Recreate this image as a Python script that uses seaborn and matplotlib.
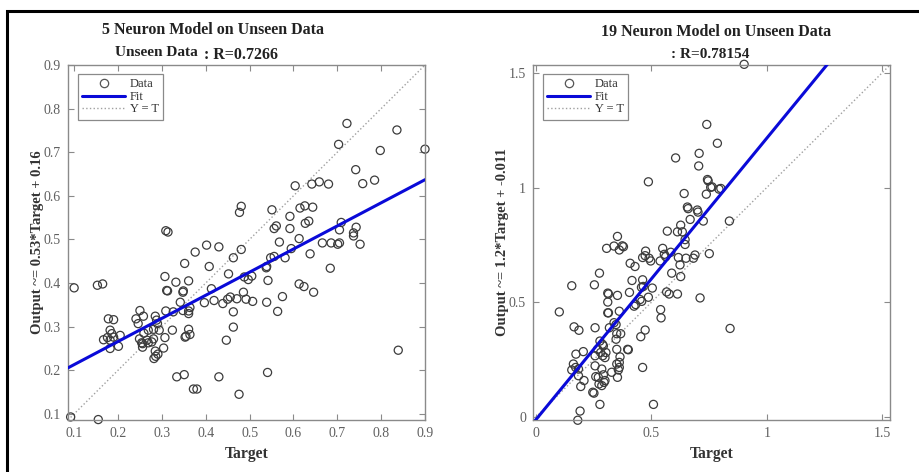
import matplotlib
matplotlib.use("Agg")
import matplotlib.pyplot as plt
from matplotlib.lines import Line2D
from matplotlib.patches import Rectangle
import seaborn as sns

# 5 neuron model, unseen data (target, output)
t5 = [0.722, 0.836, 0.900, 0.703, 0.798, 0.742, 0.758, 0.785, 0.604, 0.642,
      0.659, 0.680, 0.481, 0.477, 0.551, 0.592, 0.615, 0.626, 0.644, 0.556,
      0.561, 0.592, 0.627, 0.635, 0.709, 0.705, 0.743, 0.737, 0.737, 0.309,
      0.314, 0.568, 0.613, 0.100, 0.153, 0.165, 0.376, 0.402, 0.430, 0.481,
      0.463, 0.352, 0.408, 0.595, 0.581, 0.548, 0.556, 0.539, 0.538, 0.638,
      0.666, 0.686, 0.701, 0.705, 0.752, 0.684, 0.613, 0.624, 0.646, 0.452,
      0.488, 0.497, 0.505, 0.542, 0.463, 0.463, 0.447, 0.486, 0.492, 0.507,
      0.471, 0.456, 0.450, 0.439, 0.419, 0.397, 0.413, 0.539, 0.564, 0.575,
      0.332, 0.361, 0.349, 0.348, 0.311, 0.313, 0.307, 0.342, 0.364, 0.361,
      0.361, 0.348, 0.326, 0.309, 0.361, 0.364, 0.355, 0.353, 0.324, 0.307,
      0.304, 0.291, 0.286, 0.282, 0.285, 0.285, 0.288, 0.290, 0.294, 0.281,
      0.277, 0.281, 0.269, 0.266, 0.269, 0.254, 0.256, 0.249, 0.256, 0.250,
      0.258, 0.259, 0.241, 0.246, 0.178, 0.190, 0.182, 0.186, 0.167, 0.176,
      0.182, 0.190, 0.182, 0.201, 0.205, 0.155, 0.092, 0.334, 0.351, 0.372,
      0.380, 0.430, 0.476, 0.541, 0.839]
o5 = [0.766, 0.751, 0.707, 0.718, 0.704, 0.660, 0.628, 0.636, 0.623, 0.627,
      0.632, 0.627, 0.576, 0.562, 0.568, 0.553, 0.572, 0.577, 0.574, 0.525,
      0.531, 0.525, 0.537, 0.542, 0.539, 0.522, 0.528, 0.515, 0.508, 0.520,
      0.517, 0.494, 0.502, 0.389, 0.395, 0.398, 0.471, 0.487, 0.483, 0.477,
      0.458, 0.445, 0.438, 0.479, 0.458, 0.458, 0.461, 0.438, 0.435, 0.467,
      0.492, 0.492, 0.489, 0.492, 0.489, 0.434, 0.398, 0.392, 0.379, 0.421,
      0.414, 0.408, 0.416, 0.406, 0.334, 0.299, 0.269, 0.379, 0.363, 0.358,
      0.364, 0.368, 0.363, 0.353, 0.360, 0.355, 0.387, 0.356, 0.335, 0.369,
      0.402, 0.405, 0.382, 0.379, 0.383, 0.382, 0.415, 0.356, 0.344, 0.336,
      0.330, 0.337, 0.334, 0.336, 0.294, 0.282, 0.278, 0.276, 0.292, 0.275,
      0.251, 0.237, 0.232, 0.227, 0.244, 0.324, 0.315, 0.307, 0.292, 0.294,
      0.265, 0.272, 0.292, 0.269, 0.263, 0.263, 0.261, 0.272, 0.253, 0.337,
      0.324, 0.285, 0.318, 0.307, 0.318, 0.316, 0.292, 0.284, 0.270, 0.275,
      0.269, 0.276, 0.250, 0.255, 0.280, 0.087, 0.093, 0.185, 0.190, 0.157,
      0.157, 0.185, 0.145, 0.195, 0.246]

# 19 neuron model, unseen data (target, output)
t19 = [0.902, 0.740, 0.786, 0.605, 0.707, 0.705, 0.487, 0.743, 0.746, 0.763,
       0.801, 0.642, 0.738, 0.659, 0.699, 0.702, 0.668, 0.725, 0.838, 0.627,
       0.569, 0.613, 0.634, 0.353, 0.646, 0.306, 0.338, 0.361, 0.374, 0.379,
       0.475, 0.462, 0.473, 0.490, 0.497, 0.408, 0.429, 0.538, 0.549, 0.556,
       0.562, 0.584, 0.617, 0.624, 0.650, 0.646, 0.682, 0.689, 0.751, 0.588,
       0.627, 0.275, 0.155, 0.253, 0.311, 0.314, 0.353, 0.405, 0.416, 0.462,
       0.457, 0.465, 0.504, 0.487, 0.451, 0.458, 0.425, 0.432, 0.566, 0.577,
       0.613, 0.711, 0.540, 0.542, 0.473, 0.454, 0.462, 0.509, 0.841, 0.101,
       0.165, 0.186, 0.256, 0.311, 0.314, 0.361, 0.311, 0.338, 0.347, 0.318,
       0.350, 0.367, 0.347, 0.350, 0.397, 0.400, 0.277, 0.288, 0.292, 0.267,
       0.280, 0.303, 0.289, 0.299, 0.256, 0.173, 0.205, 0.162, 0.172, 0.184,
       0.155, 0.184, 0.208, 0.194, 0.256, 0.285, 0.259, 0.270, 0.292, 0.273,
       0.285, 0.246, 0.251, 0.295, 0.299, 0.328, 0.350, 0.361, 0.364, 0.361,
       0.357, 0.353, 0.277, 0.191, 0.181, 0.656, 0.757, 0.793]
o19 = [1.537, 1.275, 1.193, 1.129, 1.149, 1.094, 1.025, 1.035, 1.029, 1.003,
       0.996, 0.974, 0.971, 0.908, 0.902, 0.893, 0.861, 0.854, 0.854, 0.836,
       0.810, 0.807, 0.807, 0.787, 0.773, 0.735, 0.745, 0.728, 0.746, 0.742,
       0.723, 0.695, 0.703, 0.692, 0.680, 0.670, 0.656, 0.680, 0.735, 0.709,
       0.699, 0.718, 0.695, 0.663, 0.692, 0.752, 0.692, 0.706, 0.712, 0.627,
       0.612, 0.627, 0.572, 0.576, 0.540, 0.536, 0.530, 0.543, 0.595, 0.598,
       0.565, 0.569, 0.562, 0.522, 0.512, 0.504, 0.483, 0.490, 0.545, 0.536,
       0.536, 0.519, 0.468, 0.432, 0.379, 0.350, 0.216, 0.055, 0.386, 0.458,
       0.393, 0.378, 0.389, 0.454, 0.454, 0.461, 0.501, 0.411, 0.403, 0.389,
       0.363, 0.363, 0.339, 0.295, 0.295, 0.293, 0.331, 0.317, 0.310, 0.295,
       0.281, 0.281, 0.267, 0.259, 0.267, 0.274, 0.285, 0.231, 0.216, 0.209,
       0.205, 0.180, 0.159, 0.133, 0.223, 0.209, 0.176, 0.173, 0.184, 0.144,
       0.137, 0.108, 0.104, 0.151, 0.159, 0.195, 0.231, 0.238, 0.262, 0.216,
       0.205, 0.173, 0.055, 0.026, -0.014, 0.915, 1.001, 0.993]

panels = [
    dict(t=t5, o=o5, slope=0.53, icpt=0.16, lim=(0.086, 0.9),
         ticks=[0.1, 0.2, 0.3, 0.4, 0.5, 0.6, 0.7, 0.8, 0.9],
         ticklabels=["0.1", "0.2", "0.3", "0.4", "0.5", "0.6", "0.7", "0.8", "0.9"],
         ylabel="Output ~= 0.53*Target + 0.16"),
    dict(t=t19, o=o19, slope=1.226, icpt=-0.011, lim=(-0.013, 1.534),
         ticks=[0, 0.5, 1, 1.5], ticklabels=["0", "0.5", "1", "1.5"],
         ylabel="Output ~= 1.2*Target + -0.011"),
]

sns.set_theme(style="white")
plt.rcParams['font.family'] = ['Liberation Serif', 'DejaVu Serif']

fig = plt.figure(figsize=(9.2, 4.72), dpi=100)
fig.patches.append(Rectangle((7 / 920, -0.1), 1.2, 1.1 - 11 / 472, transform=fig.transFigure,
                             fill=False, edgecolor='black', linewidth=2.2, zorder=10))

lefts = [68 / 920, 533 / 920]
for p, left in zip(panels, lefts):
    ax = fig.add_axes([left, 1 - 420 / 472, 357 / 920, 355 / 472])
    lo, hi = p['lim']
    ax.plot([lo, hi], [lo, hi], linestyle=':', color='#a0a0a0', linewidth=1.0, zorder=1)
    ax.plot([lo, hi], [p['slope'] * lo + p['icpt'], p['slope'] * hi + p['icpt']],
            color='#0a0ad8', linewidth=2.2, zorder=3)
    sns.scatterplot(x=p['t'], y=p['o'], ax=ax, marker='o', s=34, facecolor='none',
                    edgecolor='#3c3c3c', linewidth=0.9, zorder=2, clip_on=False)
    ax.set_xlim(lo, hi)
    ax.set_ylim(lo, hi)
    ax.set_xticks(p['ticks'])
    ax.set_xticklabels(p['ticklabels'])
    ax.set_yticks(p['ticks'])
    ax.set_yticklabels(p['ticklabels'])
    ax.tick_params(direction='in', length=4, width=0.8, color='#8a8a8a', labelcolor='#606060',
                   labelsize=10, top=True, right=True, bottom=True, left=True, pad=5)
    for s in ax.spines.values():
        s.set_color('#8a8a8a')
        s.set_linewidth(1.0)
    ax.set_xlabel("Target", fontsize=11.3, fontweight='bold', color='#333333', labelpad=4)
    ax.set_ylabel(p['ylabel'], fontsize=10.5, fontweight='bold', color='#333333', labelpad=0)
    handles = [Line2D([], [], linestyle='none', marker='o', markersize=6, markerfacecolor='none',
                      markeredgecolor='#555555', markeredgewidth=0.9),
               Line2D([], [], color='#0a0ad8', linewidth=2.2),
               Line2D([], [], color='#a0a0a0', linestyle=':', linewidth=1.0)]
    leg = ax.legend(handles, ["Data", "Fit", "Y = T"], loc='upper left',
                    bbox_to_anchor=(0.028, 0.975), borderaxespad=0, fontsize=9,
                    frameon=True, fancybox=False, framealpha=1, edgecolor='#8a8a8a',
                    handlelength=3.4, handletextpad=0.4, labelspacing=0.05,
                    borderpad=0.35)
    leg.get_frame().set_linewidth(0.9)
    for txt in leg.get_texts():
        txt.set_color('#333333')

fig.text(213 / 920, 1 - 30 / 472, "5 Neuron Model on Unseen Data", ha='center', va='center',
         fontsize=11.5, fontweight='bold', color='#222222')
fig.text(115 / 920, 1 - 53 / 472, "Unseen Data", ha='left', va='center',
         fontsize=11, fontweight='bold', color='#222222')
fig.text(204 / 920, 1 - 55 / 472, ": R=0.7266", ha='left', va='center',
         fontsize=11.5, fontweight='bold', color='#222222')
fig.text(716 / 920, 1 - 32 / 472, "19 Neuron Model on Unseen Data", ha='center', va='center',
         fontsize=11.5, fontweight='bold', color='#222222')
fig.text(710 / 920, 1 - 55 / 472, ": R=0.78154", ha='center', va='center',
         fontsize=11, fontweight='bold', color='#222222')

fig.savefig("out.png", dpi=100)
